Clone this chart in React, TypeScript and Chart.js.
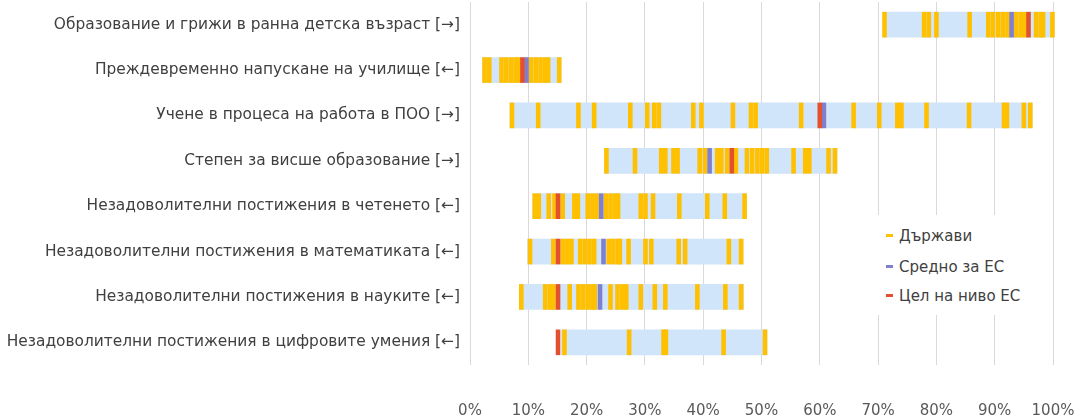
import React, { useEffect, useRef } from "react";
import { Chart, registerables } from "chart.js";

Chart.register(...registerables);

const categories = [
  "Образование и грижи в ранна детска възраст [→]",
  "Преждевременно напускане на училище [←]",
  "Учене в процеса на работа в ПОО [→]",
  "Степен за висше образование [→]",
  "Незадоволителни постижения в четенето [←]",
  "Незадоволителни постижения в математиката [←]",
  "Незадоволителни постижения в науките [←]",
  "Незадоволителни постижения в цифровите умения [←]",
];

const xTicks = [0, 10, 20, 30, 40, 50, 60, 70, 80, 90, 100];

// Range of country values (light blue bar)
const rangeStart = [70.8, 2.1, 6.8, 23.0, 10.7, 9.8, 8.4, 15.6];
const rangeEnd = [100.3, 15.7, 96.5, 63.0, 47.5, 46.9, 47.0, 51.0];

// Country values per indicator
const earlyChildhood = [71.1, 77.9, 78.7, 80.0, 85.7, 88.9, 89.7, 90.6, 91.4, 92.2, 93.7, 94.5, 95.1, 97.1, 97.9, 98.3, 99.9];
const earlyLeaving = [2.5, 3.3, 5.4, 6.2, 7.0, 7.8, 8.3, 10.5, 11.3, 12.1, 12.9, 13.4, 15.3];
const workBasedLearning = [7.2, 11.7, 18.6, 21.3, 27.5, 30.4, 31.6, 32.4, 38.3, 39.7, 45.1, 48.2, 49.0, 56.8, 65.8, 70.2, 73.3, 74.0, 78.3, 85.6, 91.6, 92.1, 95.0, 96.1];
const tertiary = [23.4, 28.3, 32.8, 33.5, 34.9, 35.6, 39.4, 40.3, 42.4, 43.1, 44.1, 45.6, 47.5, 48.4, 49.3, 50.1, 50.9, 55.5, 57.5, 58.2, 61.5, 62.6];
const reading = [11.1, 11.8, 13.5, 14.5, 15.9, 17.9, 18.5, 20.2, 21.0, 21.7, 23.3, 24.1, 24.9, 25.4, 29.3, 30.1, 31.4, 35.9, 40.7, 43.7, 47.1];
const maths = [10.3, 14.3, 15.9, 16.7, 17.4, 18.9, 19.7, 20.5, 21.3, 23.8, 24.6, 25.4, 25.7, 27.2, 30.1, 31.1, 35.8, 36.9, 44.4, 46.5];
const science = [8.8, 12.9, 13.7, 14.3, 17.1, 18.6, 19.4, 20.2, 21.0, 21.4, 24.1, 25.3, 26.1, 26.8, 29.3, 31.7, 33.5, 39.0, 43.8, 46.5];
const digital = [16.2, 27.3, 33.2, 33.6, 43.5, 50.6];

const countryRows = [earlyChildhood, earlyLeaving, workBasedLearning, tertiary, reading, maths, science, digital];

const euAverage: (number | null)[] = [92.9, 9.7, 60.7, 41.1, 22.5, 22.9, 22.3, null];
const euTarget = [95.8, 9.0, 60.0, 44.9, 15.1, 15.1, 15.1, 15.1];

const legendLabels = ["Държави", "Средно за ЕС", "Цел на ниво ЕС"];

const COL_RANGE = "#D0E4FA";
const COL_COUNTRY = "#FFC000";
const COL_AVG = "#7F7FD0";
const COL_TARGET = "#E2502D";
const FONT = "'DejaVu Sans', Verdana, sans-serif";

const markStyle = {
  type: "scatter" as const,
  pointStyle: "line" as const,
  rotation: 90,
  pointRadius: 12.8,
  pointHoverRadius: 12.8,
  pointBorderWidth: 4.6,
  pointHoverBorderWidth: 4.6,
  showLine: false,
  clip: false as const,
};

export default function App() {
  const canvasRef = useRef<HTMLCanvasElement | null>(null);

  useEffect(() => {
    document.body.style.margin = "0";
    const ctx = canvasRef.current;
    if (!ctx) return;

    const countryPts = countryRows.flatMap((row, i) => row.map((v) => ({ x: v, y: categories[i] })));
    const avgPts = euAverage
      .map((v, i) => (v == null ? null : { x: v, y: categories[i] }))
      .filter((p) => p !== null);
    const targetPts = euTarget.map((v, i) => ({ x: v, y: categories[i] }));

    const chart = new Chart(ctx, {
      type: "bar",
      data: {
        labels: categories,
        datasets: [
          {
            ...markStyle,
            label: legendLabels[2],
            data: targetPts as any,
            borderColor: COL_TARGET,
            backgroundColor: COL_TARGET,
            order: 0,
          } as any,
          {
            ...markStyle,
            label: legendLabels[1],
            data: avgPts as any,
            borderColor: COL_AVG,
            backgroundColor: COL_AVG,
            order: 1,
          } as any,
          {
            ...markStyle,
            label: legendLabels[0],
            data: countryPts as any,
            borderColor: COL_COUNTRY,
            backgroundColor: COL_COUNTRY,
            order: 2,
          } as any,
          {
            type: "bar",
            label: "range",
            data: rangeStart.map((s, i) => [s, rangeEnd[i]]) as any,
            backgroundColor: COL_RANGE,
            borderWidth: 0,
            barPercentage: 0.565,
            categoryPercentage: 1,
            order: 3,
            clip: false,
          } as any,
        ],
      },
      options: {
        indexAxis: "y",
        responsive: false,
        animation: false,
        layout: { autoPadding: false, padding: { top: 2, right: 24, left: 0, bottom: 0 } },
        plugins: {
          legend: { display: false },
          tooltip: { enabled: false },
        },
        scales: {
          x: {
            type: "linear",
            min: 0,
            max: 100,
            afterBuildTicks: (scale: any) => {
              scale.ticks = xTicks.map((v) => ({ value: v }));
            },
            ticks: {
              callback: (v: any) => v + "%",
              padding: 37,
              color: "#595959",
              font: { family: FONT, size: 15 },
            },
            grid: { color: "#D9D9D9", lineWidth: 1, drawTicks: false },
            border: { display: false },
            afterFit: (scale: any) => {
              scale.height = 53;
              scale.paddingLeft = 0;
              scale.paddingRight = 0;
            },
          },
          y: {
            type: "category",
            offset: true,
            ticks: {
              padding: 10,
              color: "#404040",
              font: { family: FONT, size: 15.4 },
            },
            grid: { display: false, drawTicks: false },
            border: { display: false },
            afterFit: (scale: any) => {
              scale.width = 470;
              scale.paddingTop = 0;
              scale.paddingBottom = 0;
            },
          },
        },
      } as any,
    });
    return () => chart.destroy();
  }, []);

  const legendColors = [COL_COUNTRY, COL_AVG, COL_TARGET];
  const legendY = [20.7, 51.7, 80.7];

  return (
    <div style={{ position: "relative", width: 1077, height: 418, fontFamily: FONT }}>
      <canvas ref={canvasRef} width={1077} height={418} style={{ display: "block" }} />
      <div
        style={{
          position: "absolute",
          left: 862,
          top: 215,
          width: 183,
          height: 100,
          background: "#FFFFFF",
        }}
      >
        {legendLabels.map((label, i) => (
          <div
            key={label}
            style={{
              position: "absolute",
              left: 24,
              top: legendY[i] - 10,
              height: 20,
              display: "flex",
              alignItems: "center",
              whiteSpace: "nowrap",
            }}
          >
            <span style={{ display: "inline-block", width: 7, height: 3, background: legendColors[i], marginRight: 6 }} />
            <span style={{ fontSize: 15, color: "#404040" }}>{label}</span>
          </div>
        ))}
      </div>
    </div>
  );
}
